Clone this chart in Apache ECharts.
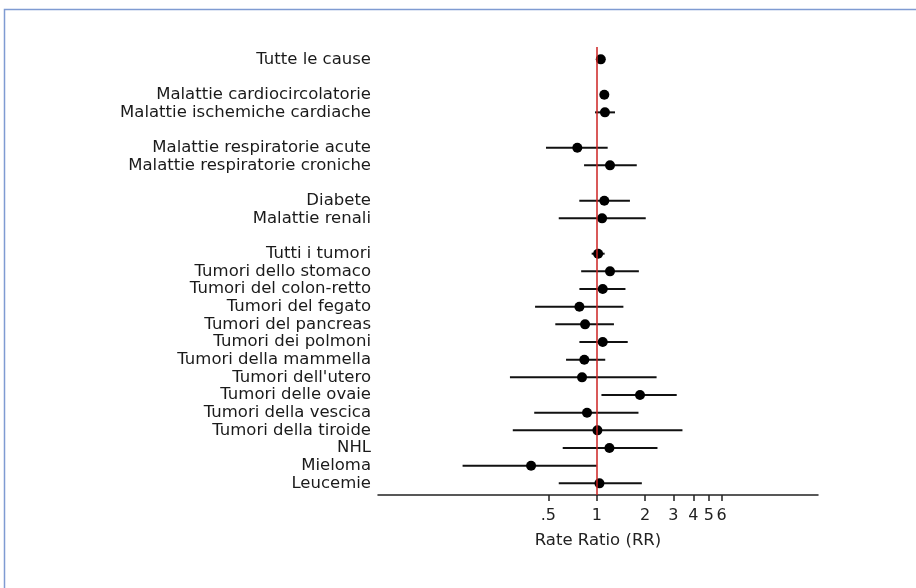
<!DOCTYPE html>
<html>
<head>
<meta charset="utf-8">
<script src="https://cdn.jsdelivr.net/npm/echarts@6/dist/echarts.min.js"></script>
<style>
html,body{margin:0;padding:0;background:#fff;}
#main{width:916px;height:588px;}
</style>
</head>
<body>
<div id="main"></div>
<script>
// Row labels (empty strings are spacer rows)
const categories = [
  'Tutte le cause', '',
  'Malattie cardiocircolatorie', 'Malattie ischemiche cardiache', '',
  'Malattie respiratorie acute', 'Malattie respiratorie croniche', '',
  'Diabete', 'Malattie renali', '',
  'Tutti i tumori', 'Tumori dello stomaco', 'Tumori del colon-retto', 'Tumori del fegato',
  'Tumori del pancreas', 'Tumori dei polmoni', 'Tumori della mammella', "Tumori dell'utero",
  'Tumori delle ovaie', 'Tumori della vescica', 'Tumori della tiroide', 'NHL', 'Mieloma', 'Leucemie'
];
// Rate ratio point estimates
const rr = [
  1.06, null,
  1.115, 1.125, null,
  0.757, 1.21, null,
  1.115, 1.08, null,
  1.02, 1.21, 1.09, 0.78,
  0.846, 1.09, 0.837, 0.81,
  1.86, 0.87, 1.01, 1.20, 0.39, 1.04
];
// Lower confidence limits
const lower = [
  1.01, null,
  1.05, 0.976, null,
  0.483, 0.834, null,
  0.779, 0.58, null,
  0.93, 0.80, 0.78, 0.413,
  0.552, 0.78, 0.644, 0.288,
  1.07, 0.408, 0.30, 0.614, 0.146, 0.58
];
// Upper confidence limits
const upper = [
  1.11, null,
  1.18, 1.30, null,
  1.17, 1.776, null,
  1.61, 2.02, null,
  1.12, 1.83, 1.51, 1.466,
  1.28, 1.56, 1.13, 2.36,
  3.15, 1.82, 3.42, 2.39, 1.0, 1.91
];
// X axis ticks
const tickValues = [0.5, 1, 2, 3, 4, 5, 6];
const tickLabels = ['.5', '1', '2', '3', '4', '5', '6'];
const xMin = 0.0434, xMax = 23.9;

const labelIdx = [];
categories.forEach((c, i) => { if (c !== '') labelIdx.push(i); });
const pointData = [];
const barData = [];
categories.forEach((c, i) => {
  if (rr[i] != null) {
    pointData.push([rr[i], i]);
    barData.push([lower[i], upper[i], i]);
  }
});

const FONT = 'DejaVu Sans';
const chart = echarts.init(document.getElementById('main'), null, {renderer: 'canvas'});
chart.setOption({
  backgroundColor: '#fff',
  animation: false,
  graphic: [{
    type: 'rect',
    shape: {x: 4.5, y: 9.5, width: 1200, height: 1200},
    style: {fill: 'none', stroke: '#7f9bd2', lineWidth: 1.5},
    silent: true, z: 100
  }],
  grid: {left: 378, right: 98, top: 47, bottom: 93, containLabel: false},
  xAxis: [{
    type: 'log', logBase: 10, min: xMin, max: xMax, position: 'bottom',
    axisLine: {show: true, onZero: false, lineStyle: {color: '#222', width: 1.5}},
    axisTick: {show: false}, axisLabel: {show: false}, splitLine: {show: false}
  }, {
    type: 'value', min: Math.log10(xMin), max: Math.log10(xMax), position: 'bottom',
    axisLine: {show: false, onZero: false},
    axisTick: {show: true, length: 6, customValues: tickValues.map(Math.log10),
      lineStyle: {color: '#222', width: 1.5}},
    axisLabel: {show: true, margin: 13, customValues: tickValues.map(Math.log10),
      color: '#222', fontFamily: FONT, fontSize: 16,
      formatter: function (v) {
        let best = 0, bd = Infinity;
        tickValues.forEach((t, k) => { const d = Math.abs(Math.log10(t) - v); if (d < bd) { bd = d; best = k; } });
        return tickLabels[best];
      }},
    splitLine: {show: false},
    name: 'Rate Ratio (RR)', nameLocation: 'middle', nameGap: 37,
    nameTextStyle: {color: '#222', fontFamily: FONT, fontSize: 16.5}
  }],
  yAxis: {
    type: 'value', inverse: true, min: -0.7, max: 24.66,
    axisLine: {show: false}, axisTick: {show: false}, splitLine: {show: false},
    axisLabel: {show: true, margin: 7, customValues: labelIdx,
      color: '#1a1a1a', fontFamily: FONT, fontSize: 16.5,
      formatter: function (v) { return categories[Math.round(v)] || ''; }}
  },
  series: [{
    type: 'custom', xAxisIndex: 0, yAxisIndex: 0, z: 2,
    data: barData,
    encode: {x: [0, 1], y: 2},
    renderItem: function (params, api) {
      const a = api.coord([api.value(0), api.value(2)]);
      const b = api.coord([api.value(1), api.value(2)]);
      return {type: 'line', shape: {x1: a[0], y1: a[1], x2: b[0], y2: b[1]},
        style: {stroke: '#111', lineWidth: 2}};
    },
    markLine: {
      silent: true, symbol: 'none', label: {show: false},
      lineStyle: {color: '#cc2222', width: 1.5, type: 'solid', opacity: 1},
      data: [{xAxis: 1}]
    }
  }, {
    type: 'scatter', xAxisIndex: 0, yAxisIndex: 0, z: 3,
    data: pointData, symbol: 'circle', symbolSize: 10,
    itemStyle: {color: '#000', opacity: 1}
  }]
});
</script>
</body>
</html>
